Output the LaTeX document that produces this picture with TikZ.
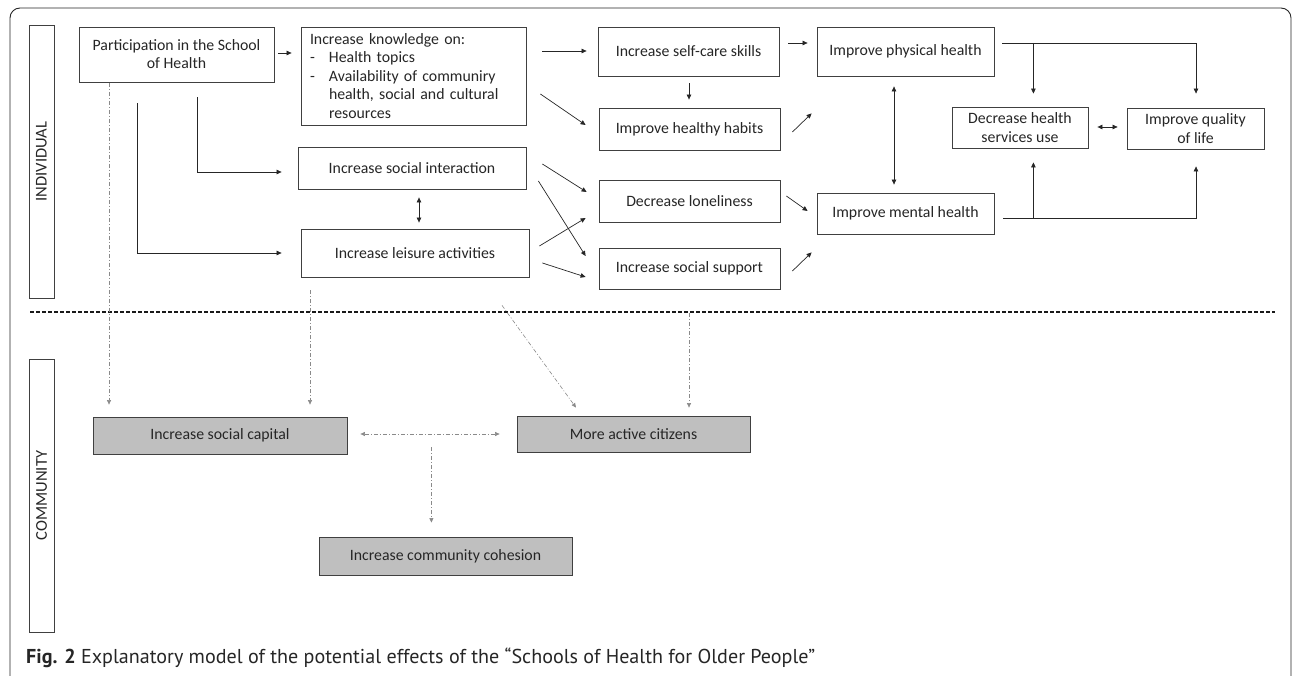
\documentclass[tikz,border=0pt]{standalone}
\usepackage{fontspec}
\setmainfont{Carlito}
\newfontfamily\capfont{PT Sans}
\usepackage{graphicx}
\usetikzlibrary{arrows.meta,calc}
\definecolor{boxgray}{HTML}{BFBFBF}
\definecolor{dashgray}{HTML}{8A8A8A}
\tikzset{
  box/.style={draw=black!75, line width=0.8pt, fill=white, inner sep=0pt, align=center,
    font=\fontsize{15.8}{18.5}\selectfont, text=black!85},
  gbox/.style={box, fill=boxgray},
  lbox/.style={draw=black!75, line width=0.8pt, inner sep=0pt, rotate=90,
    minimum width=273pt, minimum height=25pt, font=\fontsize{16.5}{16.5}\selectfont, text=black!85},
  arr/.style={-{Triangle[length=5pt,width=4.5pt]}, line width=0.7pt, draw=black!85},
  darr/.style={{Triangle[length=5pt,width=4.5pt]}-{Triangle[length=5pt,width=4.5pt]}, line width=0.7pt, draw=black!85},
  garr/.style={-{Triangle[length=4.5pt,width=4pt]}, line width=0.6pt, draw=dashgray,
    dash pattern=on 4pt off 2pt on 1pt off 2pt},
  gdarr/.style={{Triangle[length=4.5pt,width=4pt]}-{Triangle[length=4.5pt,width=4pt]}, line width=0.6pt, draw=dashgray,
    dash pattern=on 4pt off 2pt on 1pt off 2pt},
  sepline/.style={line width=1.6pt, draw=black!90, dash pattern=on 4pt off 2pt},
  frame/.style={line width=0.9pt, draw=black!85, rounded corners=10pt}
}
\begin{document}
\begin{tikzpicture}[x=1pt,y=-1pt]
\useasboundingbox (0,0) rectangle (1292,676);
% outer frame
\coordinate (fbl) at (10,690);
\coordinate (ftr) at (1291,8);
\draw[frame] (fbl) |- (ftr) -- (1291,690);

% side labels
\node[lbox] (indiv) at (41.5,161.5) {INDIVIDUAL};
\node[lbox] (comm) at (41.5,495.5) {COMMUNITY};

% individual level
\node[box, minimum width=195pt, minimum height=55pt, font=\fontsize{15.8}{18}\selectfont] (part) at (176.5,54.5) {Participation in the School\\of Health};
\node[box, minimum width=225pt, minimum height=98pt, text width=207pt, inner xsep=9pt, align=left] (know) at (413.5,76)
  {Increase knowledge on:\\
   \makebox[19pt][l]{-}Health topics\\
   \makebox[19pt][l]{-}Availability of communiry\\
   \hspace*{19pt}health, social and cultural\\
   \hspace*{19pt}resources};
\node[box, minimum width=181pt, minimum height=49pt] (self) at (688.5,51.5) {Increase self-care skills};
\node[box, minimum width=177pt, minimum height=49pt] (phys) at (905.5,51.5) {Improve physical health};
\node[box, minimum width=181pt, minimum height=42pt] (habits) at (689.5,129) {Improve healthy habits};
\node[box, minimum width=136pt, minimum height=41pt, font=\fontsize{15.8}{19}\selectfont] (dhs) at (1020,127.5) {Decrease health\\services use};
\node[box, minimum width=137pt, minimum height=41pt, font=\fontsize{15.8}{18.5}\selectfont] (qol) at (1195.5,128.5) {Improve quality\\of life};
\node[box, minimum width=228pt, minimum height=42pt] (inter) at (412,168) {Increase social interaction};
\node[box, minimum width=181pt, minimum height=42pt] (lonely) at (689.5,201) {Decrease loneliness};
\node[box, minimum width=177pt, minimum height=41pt] (mental) at (905.5,213.5) {Improve mental health};
\node[box, minimum width=228pt, minimum height=48pt] (leisure) at (415,253) {Increase leisure activities};
\node[box, minimum width=181pt, minimum height=41pt] (support) at (689.5,268.5) {Increase social support};

% community level
\node[gbox, minimum width=254pt, minimum height=37pt] (capital) at (220,435.5) {Increase social capital};
\node[gbox, minimum width=233pt, minimum height=36pt] (active) at (633.5,434) {More active citizens};
\node[gbox, minimum width=253pt, minimum height=38pt] (cohesion) at (445.5,556) {Increase community cohesion};

% separator
\coordinate (sepL) at (30,312);
\coordinate (sepR) at (1275,312);
\draw[sepline] (sepL) -- (sepR);

% solid connectors
\draw[arr] ($(part.east)+(4,-1.5)$) coordinate (s1) -- ($(s1 -| know.west)+(-9,0)$);
\draw[arr] ($(part.south)+(20.5,15)$) |- ($(inter.west)+(-16,4)$);
\draw[arr] ($(part.south)+(-39.5,21)$) |- ($(leisure.west)+(-19,0)$);
\draw[arr] ($(know.east)+(16,-25)$) coordinate (s4) -- ($(s4 -| self.west)+(-11,0)$);
\draw[arr] ($(know.east)+(14,18)$) -- ($(habits.west)+(-13,-4)$);
\draw[arr] ($(self.south)+(0.5,7)$) coordinate (s6) -- ($(s6 |- habits.north)+(0,-8)$);
\draw[arr] ($(self.east)+(9,-8.5)$) coordinate (s7) -- ($(s7 -| phys.west)+(-9,0)$);
\draw[arr] ($(habits.east)+(12,3)$) -- ($(phys.south west)+(-5,37)$);
\draw[arr] ($(inter.east)+(16,-4)$) -- ($(lonely.west)+(-12,-9)$);
\draw[arr] ($(inter.east)+(12,13)$) -- ($(support.west)+(-13,-12.5)$);
\draw[arr] ($(leisure.east)+(10,-7)$) -- ($(lonely.west)+(-13,17)$);
\draw[arr] ($(leisure.east)+(13,10)$) -- ($(support.west)+(-13,8.5)$);
\draw[darr] ($(inter.south)+(7,8)$) coordinate (s13) -- ($(s13 |- leisure.north)+(0,-6)$);
\draw[arr] ($(lonely.east)+(6,-5)$) -- ($(mental.west)+(-9,-2.5)$);
\draw[arr] ($(support.east)+(12,2.5)$) -- ($(mental.south west)+(-5,18)$);
\draw[darr] ($(phys.south)+(-11.5,10)$) coordinate (s16) -- ($(s16 |- mental.north)+(0,-8)$);
% physical health -> services use / quality of life
\draw[arr] ($(phys.east)+(8,-8.5)$) -| ($(qol.north)+(0.5,-14)$);
\draw[arr] ($(phys.east)+(39,-8.5)$) coordinate (b1) -- ($(b1 |- dhs.north)+(0,-13)$);
% mental health -> services use / quality of life
\draw[arr] ($(mental.east)+(9,4.5)$) -| ($(qol.south)+(0.5,17)$);
\draw[arr] ($(mental.east)+(39,4.5)$) coordinate (b2) -- ($(b2 |- dhs.south)+(0,14)$);
\draw[darr] ($(dhs.east)+(9,-0.5)$) coordinate (s19) -- ($(s19 -| qol.west)+(-9,0)$);

% dash-dot connectors to community level
\draw[garr] ($(part.south)+(-67.5,0.5)$) coordinate (g1) -- ($(g1 |- capital.north)+(0,-12)$);
\draw[garr] ($(leisure.south)+(-105,13)$) coordinate (g2) -- ($(g2 |- capital.north)+(0,-12)$);
\draw[garr] ($(leisure.south)+(87,28)$) -- ($(active.north)+(-57.5,-8)$);
\draw[garr] ($(support.south)+(-0.5,24)$) coordinate (g4) -- ($(g4 |- active.north)+(0,-8)$);
\draw[gdarr] ($(capital.east)+(13,-1.5)$) coordinate (g5) -- ($(g5 -| active.west)+(-17,0)$);
\coordinate (mid) at ($(capital.east)+(84,11.5)$);
\draw[garr] (mid) -- ($(mid |- cohesion.north)+(0,-14)$);

% caption
\node[anchor=base west, inner sep=0pt, text=black!85] (cap) at (26,663)
  {\resizebox{789pt}{!}{\capfont\fontsize{17}{20}\selectfont\textbf{Fig. 2} Explanatory model of the potential effects of the “Schools of Health for Older People”}};
\end{tikzpicture}
\end{document}
